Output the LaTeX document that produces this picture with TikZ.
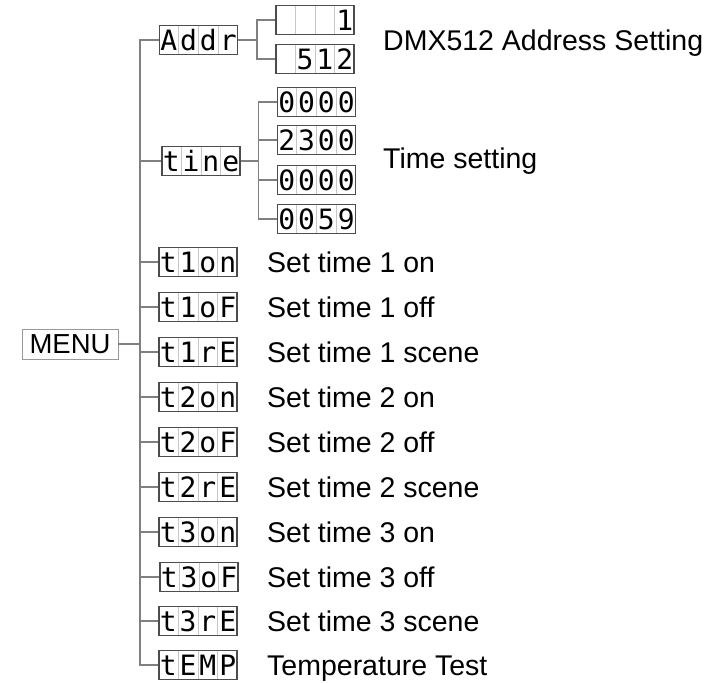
\documentclass[tikz,border=0pt]{standalone}
\usepackage{fontspec}
\setmainfont{Liberation Sans}
\newfontfamily\lcdfont{DejaVu Sans Mono}
\usetikzlibrary{calc}

\tikzset{
  lcdbox/.style={draw=black!70,line width=1.2pt,minimum width=78pt,
    minimum height=29pt,inner sep=0pt},
  lcdrule/.style={black!22,line width=0.8pt,shorten <=0.7pt,shorten >=0.7pt},
  lcdchar/.style={anchor=base,inner sep=0pt,
    font=\lcdfont\fontsize{28}{28}\selectfont},
  menubox/.style={draw=black!40,line width=0.8pt,minimum width=96pt,
    minimum height=30pt,inner sep=0pt,font=\fontsize{27.5}{30}\selectfont},
  wire/.style={black!50,line width=1.3pt},
  desc/.style={anchor=base west,inner sep=0pt,font=\fontsize{28.5}{30}\selectfont},
}

% one four-digit display: name, centre, cells
\newcommand{\lcd}[6]{%
  \node[lcdbox] (#1) at #2 {};
  \draw[lcdrule] ($(#1.north west)!0.25!(#1.north east)$) -- ($(#1.south west)!0.25!(#1.south east)$);
  \draw[lcdrule] ($(#1.north west)!0.5!(#1.north east)$) -- ($(#1.south west)!0.5!(#1.south east)$);
  \draw[lcdrule] ($(#1.north west)!0.75!(#1.north east)$) -- ($(#1.south west)!0.75!(#1.south east)$);
  \node[lcdchar] at ($(#1.west)!0.125!(#1.east)+(0,10.5)$) {#3};
  \node[lcdchar] at ($(#1.west)!0.375!(#1.east)+(0,10.5)$) {#4};
  \node[lcdchar] at ($(#1.west)!0.625!(#1.east)+(0,10.5)$) {#5};
  \node[lcdchar] at ($(#1.west)!0.875!(#1.east)+(0,10.5)$) {#6};
}

\begin{document}
\begin{tikzpicture}[x=1pt,y=-1pt]
  \useasboundingbox (0,0) rectangle (724,683);
  \node[menubox] (menu) at (70,344) {MENU};

  % first level
  \lcd{addr}{(198.5,40)}{A}{d}{d}{r}
  \lcd{time}{(201,161)}{t}{i}{n}{e}
  \lcd{tonA}{(198,262)}{t}{1}{o}{n}
  \lcd{tofA}{(198,307)}{t}{1}{o}{F}
  \lcd{tscA}{(198,352)}{t}{1}{r}{E}
  \lcd{tonB}{(198,397)}{t}{2}{o}{n}
  \lcd{tofB}{(198,442)}{t}{2}{o}{F}
  \lcd{tscB}{(198,487)}{t}{2}{r}{E}
  \lcd{tonC}{(198,532)}{t}{3}{o}{n}
  \lcd{tofC}{(199,577)}{t}{3}{o}{F}
  \lcd{tscC}{(198,621)}{t}{3}{r}{E}
  \lcd{temp}{(198,665)}{t}{E}{M}{P}

  \coordinate (trunk) at (140,40);
  \draw[wire] (addr.west) -- (addr.west -| trunk) |- (temp.west);
  \draw[wire] (menu.east) -- (menu.east -| trunk);
  \foreach \n in {time,tonA,tofA,tscA,tonB,tofB,tscB,tonC,tofC,tscC}
    \draw[wire] (\n.west) -- (\n.west -| trunk);

  % address displays
  \lcd{adrlow}{(315,20)}{}{}{}{1}
  \lcd{adrhigh}{(315,59)}{}{5}{1}{2}
  \draw[wire] (addr.east) -- ++(19,0) coordinate (addrfork);
  \draw[wire] (adrlow.west) -| (addrfork) |- (adrhigh.west);

  % time displays
  \lcd{tsetA}{(316.5,102)}{0}{0}{0}{0}
  \lcd{tsetB}{(316.5,140)}{2}{3}{0}{0}
  \lcd{tsetC}{(316.5,180)}{0}{0}{0}{0}
  \lcd{tsetD}{(316.5,219)}{0}{0}{5}{9}
  \draw[wire] (time.east) -- ++(18,0) coordinate (timefork);
  \draw[wire] (tsetA.west) -| (timefork) |- (tsetD.west);
  \draw[wire] (tsetB.west) -- (tsetB.west -| timefork);
  \draw[wire] (tsetC.west) -- (tsetC.west -| timefork);

  \node[desc] (addrtext) at (383,50) {DMX512 Address Setting};
  \node[desc] (timetext) at (383,168) {Time setting};
  \node[desc] (tonAtext) at (267,272) {Set time 1 on};
  \node[desc] (tofAtext) at (267,317) {Set time 1 off};
  \node[desc] (tscAtext) at (267,362) {Set time 1 scene};
  \node[desc] (tonBtext) at (267,407) {Set time 2 on};
  \node[desc] (tofBtext) at (267,452) {Set time 2 off};
  \node[desc] (tscBtext) at (267,497) {Set time 2 scene};
  \node[desc] (tonCtext) at (267,542) {Set time 3 on};
  \node[desc] (tofCtext) at (267,587) {Set time 3 off};
  \node[desc] (tscCtext) at (267,631) {Set time 3 scene};
  \node[desc] (temptext) at (267,675) {Temperature Test};
\end{tikzpicture}
\end{document}
